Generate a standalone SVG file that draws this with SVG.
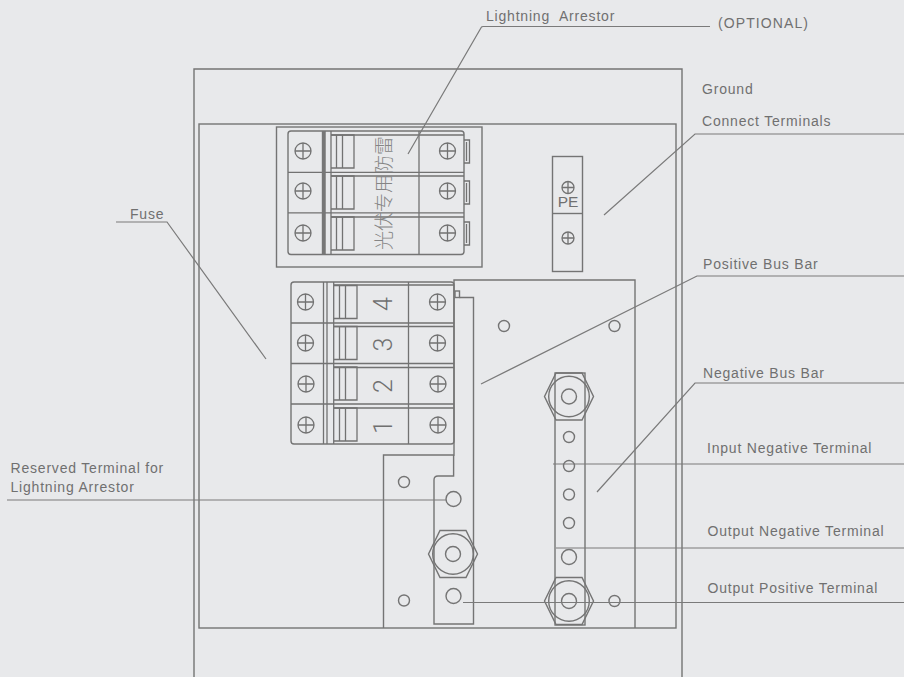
<svg xmlns="http://www.w3.org/2000/svg" width="904" height="677" viewBox="0 0 904 677">
<style>
.l{fill:none;stroke:#747474;stroke-width:1.4}
.c{fill:none;stroke:#7a7a7a;stroke-width:1.2}
.s{fill:none;stroke:#727272;stroke-width:1.3}
text{font-family:"Liberation Sans",Arial,sans-serif;fill:#707070}
.lab{font-size:14px;letter-spacing:.8px}
.n{font-family:Roboto,"Liberation Sans",sans-serif;font-weight:300;font-size:25px;fill:#707070}
</style>
<defs>
<g id="screw"><circle r="8" class="s"/><path d="M-8 0H8M0-8V8" class="s"/></g>
<g id="screwS"><circle r="6" class="s"/><path d="M-6 0H6M0-6V6" class="s"/></g>
<g id="nut"><path d="M-24.500 0L-13-23.500H13L24.500 0L13 23.500H-13Z" class="l"/><circle r="20.300" class="l"/><circle r="7.500" class="l"/></g>
<g id="sw3"><path d="M0 0H23V33H0M5.500 0V33M11.500 0V33" class="s"/></g>
</defs>
<rect width="904" height="677" fill="#e8e9eb"/>
<g id="enclosure">
<path d="M194 677V69H682V677" class="l"/>
<rect x="199" y="124" width="477" height="504" class="l"/>
</g>
<g id="arrestor">
<rect x="276.500" y="127" width="205.500" height="140" class="l"/>
<rect x="288" y="131" width="176" height="123.500" rx="3" class="l"/>
<path d="M288 172.300H464M288 212.800H464M331 135H464M331 176H464M331 217H464M325 131V254.500M331 131V254.500M419 131V254.500" class="s"/>
<path d="M323.500 131V254.500" stroke="#777" stroke-width="3.400" fill="none"/>
<use href="#sw3" x="331" y="135"/>
<use href="#sw3" x="331" y="176"/>
<use href="#sw3" x="331" y="217"/>
<use href="#screw" x="303" y="151"/><use href="#screw" x="303" y="191"/><use href="#screw" x="303" y="233"/>
<use href="#screw" x="447.500" y="151"/><use href="#screw" x="447.500" y="191"/><use href="#screw" x="447.500" y="233"/>
<path d="M464 140H469.500V163H464M466.500 142V161M464 181H469.500V204H464M466.500 183V202M464 222H469.500V245H464M466.500 224V243" class="s"/>
<text transform="translate(391,250) rotate(-90)" style="font-family:'Noto Sans CJK SC','Liberation Sans',sans-serif;font-size:19px;font-weight:300;fill:#858585">光伏专用防雷</text>
</g>
<g id="pe-terminal">
<rect x="552.500" y="156.500" width="30" height="115" class="l"/>
<path d="M552.500 213.500H582.500" class="l"/>
<use href="#screwS" x="568" y="187.500"/>
<use href="#screwS" x="568" y="238"/>
<text x="568" y="206.500" text-anchor="middle" style="font-size:15.500px">PE</text>
</g>
<g id="fuse">
<rect x="291" y="282" width="163" height="162" rx="3" class="l"/>
<path d="M291 323H454M291 363.500H454M291 404H454M334 285H454M334 326.500H454M334 367.500H454M334 408H454M323.500 282V444M327 282V444M333.700 282V444M408.500 282V444" class="s"/>
<use href="#sw3" x="334" y="285.500"/>
<use href="#sw3" x="334" y="326.500"/>
<use href="#sw3" x="334" y="367"/>
<use href="#sw3" x="334" y="408"/>
<use href="#screw" x="305.500" y="302"/><use href="#screw" x="305.500" y="343"/><use href="#screw" x="306" y="384"/><use href="#screw" x="306" y="425"/>
<use href="#screw" x="437.500" y="302"/><use href="#screw" x="437.500" y="343"/><use href="#screw" x="438" y="384"/><use href="#screw" x="438" y="425"/>
<text class="n" transform="translate(392,304) rotate(-90)" text-anchor="middle">4</text>
<text class="n" transform="translate(392,344.500) rotate(-90)" text-anchor="middle">3</text>
<text class="n" transform="translate(392,386) rotate(-90)" text-anchor="middle">2</text>
<text class="n" transform="translate(392,427) rotate(-90)" text-anchor="middle">1</text>
</g>
<g id="bus-plate">
<path d="M454 444V280H635V628M454 444V455H383.500V628" class="l"/>
<path d="M459.500 297.500H473.500V624H434V480Q434 476 438 476H453.600V455" class="l"/>
<rect x="455" y="291" width="4.500" height="6.500" class="l"/>
<circle cx="504" cy="326" r="5.500" class="l"/>
<circle cx="614.500" cy="326" r="5.500" class="l"/>
<circle cx="404" cy="482" r="5.500" class="l"/>
<circle cx="404" cy="600.500" r="5.500" class="l"/>
<circle cx="453.500" cy="499" r="7.500" class="l"/>
<circle cx="453.500" cy="596" r="7.500" class="l"/>
<use href="#nut" x="453" y="554"/>
</g>
<g id="bus-bar">
<rect x="555" y="373" width="30" height="252" class="l"/>
<use href="#nut" x="569" y="396.500"/>
<use href="#nut" x="569" y="601"/>
<circle cx="569" cy="437" r="5.500" class="l"/>
<circle cx="569" cy="466" r="5.500" class="l"/>
<circle cx="569" cy="494.500" r="5.500" class="l"/>
<circle cx="569" cy="523" r="5.500" class="l"/>
<circle cx="569" cy="557" r="7.500" class="l"/>
<circle cx="614.500" cy="601" r="5.500" class="l"/>
</g>
<g id="connectors">
<path class="c" d="M408 154L481.500 27L483 26.500H710"/>
<path class="c" d="M604 215L695 134H904"/>
<path class="c" d="M481 384L697 276H904"/>
<path class="c" d="M597 492L695 383H904"/>
<path class="c" d="M553 464H904"/>
<path class="c" d="M556 548H904"/>
<path class="c" d="M463 602.500H904"/>
<path class="c" d="M116 222H167L266 359"/>
<path class="c" d="M7 500H446"/>
</g>
<g id="labels">
<text class="lab" x="486" y="21" word-spacing="5">Lightning Arrestor</text>
<text class="lab" x="718" y="28" style="letter-spacing:1.1px">(OPTIONAL)</text>
<text class="lab" x="702" y="94">Ground</text>
<text class="lab" x="702" y="126">Connect Terminals</text>
<text class="lab" x="703" y="269">Positive Bus Bar</text>
<text class="lab" x="703" y="378">Negative Bus Bar</text>
<text class="lab" x="707" y="453">Input Negative Terminal</text>
<text class="lab" x="707.500" y="536">Output Negative Terminal</text>
<text class="lab" x="707.500" y="592.500">Output Positive Terminal</text>
<text class="lab" x="130" y="219">Fuse</text>
<text class="lab" x="10.500" y="472.500">Reserved Terminal for</text>
<text class="lab" x="10.500" y="491.500">Lightning Arrestor</text>
</g>
</svg>
